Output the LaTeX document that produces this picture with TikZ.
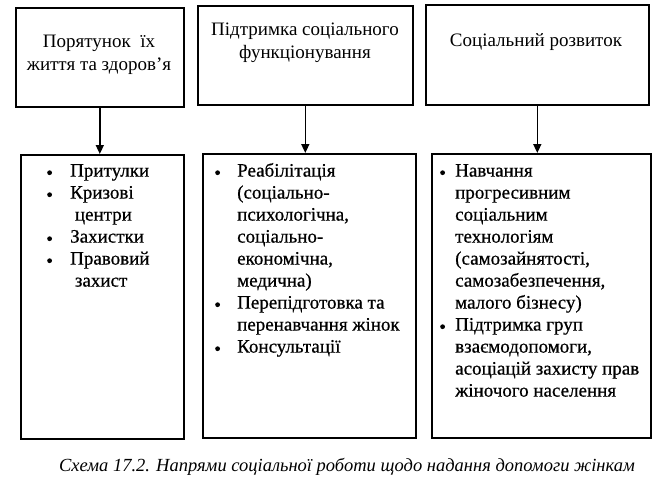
\documentclass[tikz,border=0pt]{standalone}
\usepackage{fontspec}
\setmainfont{Liberation Serif}
\newfontfamily\heavy[FakeBold=0.6]{Liberation Serif}
\usetikzlibrary{arrows.meta}
\newcommand{\bul}{\raisebox{1.5pt}{\tikz\fill (0,0) circle (2.4pt);}}
\begin{document}
\begin{tikzpicture}[x=1pt,y=-1pt,
  box/.style={draw, line width=1.6pt, inner sep=0, anchor=north west},
  ttl/.style={font=\fontsize{19}{23}\selectfont, align=center, inner sep=0},
  lst/.style={font=\heavy\fontsize{19}{22}\selectfont, anchor=north west, inner sep=0, align=left},
  arr/.style={line width=1.6pt, -{Triangle[width=8pt,length=9pt]}}
]
\useasboundingbox[fill=white] (0,0) rectangle (666,490);
% top boxes
\node[box, minimum width=168pt, minimum height=99pt] (t1) at (15,7) {};
\node[box, minimum width=215pt, minimum height=99pt] (t2) at (197,5) {};
\node[box, minimum width=223pt, minimum height=100pt] (t3) at (425,4) {};
\node[ttl] (t1x) at (99,55) {Порятунок\ \ їх\\життя та здоров’я};
\node[ttl] (t2x) at (305,43) {Підтримка соціального\\функціонування};
\node[ttl] (t3x) at (536,42) {Соціальний розвиток};
% bottom boxes
\node[box, minimum width=163pt, minimum height=284pt] (b1) at (20,154) {};
\node[box, minimum width=213pt, minimum height=284pt] (b2) at (202,153) {};
\node[box, minimum width=219pt, minimum height=284pt] (b3) at (431,153) {};
% arrows
\draw[arr] (t1.south) -- (t1.south |- b1.north);
\draw[arr] (t2.south) -- (t2.south |- b2.north);
\draw[arr] (t3.south) -- (t3.south |- b3.north);
% lists
\node[lst] (l1) at (47,161) {\begin{tabular}{@{}p{23pt}@{}l@{}}
\bul & Притулки\\
\bul & Кризові\\
 & \ центри\\
\bul & Захистки\\
\bul & Правовий\\
 & \ захист
\end{tabular}};
\node[lst] (l2) at (215,161) {\begin{tabular}{@{}p{22pt}@{}l@{}}
\bul & Реабілітація\\
 & (соціально-\\
 & психологічна,\\
 & соціально-\\
 & економічна,\\
 & медична)\\
\bul & Перепідготовка та\\
 & перенавчання жінок\\
\bul & Консультації
\end{tabular}};
\node[lst] (l3) at (440,161) {\begin{tabular}{@{}p{15pt}@{}l@{}}
\bul & Навчання\\
 & прогресивним\\
 & соціальним\\
 & технологіям\\
 & (самозайнятості,\\
 & самозабезпечення,\\
 & малого бізнесу)\\
\bul & Підтримка груп\\
 & взаємодопомоги,\\
 & асоціацій захисту прав\\
 & жіночого населення
\end{tabular}};
% caption
\node[font=\itshape\fontsize{18.5}{22}\selectfont, inner sep=0] (cap) at (347,467) {Схема 17.2. Напрями соціальної роботи щодо надання допомоги жінкам};
\end{tikzpicture}
\end{document}
